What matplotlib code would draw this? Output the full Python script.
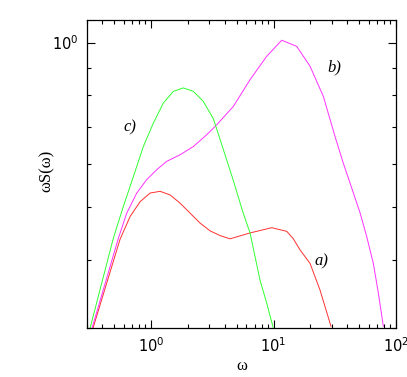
import numpy as np
import matplotlib
matplotlib.use('Agg')
import matplotlib.pyplot as plt
from matplotlib.ticker import LogLocator, NullFormatter

# curva a) (rojo)
w_a = [0.336, 0.558, 0.674, 0.813, 0.981, 1.184, 1.429, 1.725, 2.082, 2.512, 3.031,
       3.659, 4.415, 6.43, 9.67, 12.82, 14.51, 16.46, 19.86, 23.97, 29.47]
s_a = [0.300, 0.436, 0.480, 0.511, 0.530, 0.534, 0.526, 0.508, 0.487, 0.467, 0.452,
       0.443, 0.437, 0.448, 0.458, 0.451, 0.437, 0.417, 0.394, 0.352, 0.302]

# curva b) (magenta)
w_b = [0.330, 0.541, 0.633, 0.764, 0.922, 1.113, 1.343, 1.725, 2.215, 2.849, 3.438,
       4.697, 6.43, 8.80, 11.67, 15.47, 19.86, 25.5, 31.77, 37.14, 42.12, 50.83,
       57.66, 65.27, 71.7, 78.8]
s_b = [0.300, 0.438, 0.487, 0.530, 0.561, 0.585, 0.606, 0.623, 0.645, 0.678, 0.707,
       0.764, 0.855, 0.944, 1.010, 0.984, 0.905, 0.797, 0.673, 0.601, 0.553, 0.488,
       0.441, 0.394, 0.348, 0.302]

# curva c) (verde)
w_c = [0.318, 0.492, 0.594, 0.717, 0.865, 1.044, 1.260, 1.521, 1.835, 2.215, 2.673,
       3.226, 3.659, 4.671, 5.636, 6.43, 7.76, 8.80, 9.91]
s_c = [0.300, 0.438, 0.501, 0.568, 0.645, 0.712, 0.775, 0.814, 0.826, 0.814, 0.780,
       0.725, 0.665, 0.561, 0.488, 0.448, 0.367, 0.333, 0.301]

fig = plt.figure(figsize=(4.07, 3.77), dpi=100)
ax = fig.add_axes([0.2138, 0.130, 0.7592, 0.817])

ax.plot(w_a, s_a, color='#ff3030', lw=0.7)
ax.plot(w_b, s_b, color='#ff30ff', lw=0.7)
ax.plot(w_c, s_c, color='#30ff30', lw=0.7)

ax.set_xscale('log')
ax.set_yscale('log')
ax.set_xlim(0.3, 100)
ax.set_ylim(0.3, 1.1)

ax.yaxis.set_major_locator(LogLocator(base=10, subs=(1.0,)))
ax.yaxis.set_minor_locator(LogLocator(base=10, subs=np.arange(2, 10)))
ax.yaxis.set_minor_formatter(NullFormatter())
ax.xaxis.set_minor_formatter(NullFormatter())

ax.tick_params(which='both', direction='in', top=True, right=True, labelsize=10.5)
ax.tick_params(which='major', length=6, width=0.8, pad=6)
ax.tick_params(which='minor', length=3, width=0.8)
for sp in ax.spines.values():
    sp.set_linewidth(0.9)

ax.set_xlabel('ω', family='Liberation Serif', fontsize=12, labelpad=2)
ax.set_ylabel('ωS(ω)', family='Liberation Serif', fontsize=12)
ax.yaxis.set_label_coords(-0.104, 0.51)

lab = dict(family='Liberation Serif', style='italic', fontsize=12)
ax.text(21.8, 0.397, 'a)', ha='left', va='center', **lab)
ax.text(27.3, 0.90, 'b)', ha='left', va='center', **lab)
ax.text(0.59, 0.70, 'c)', ha='left', va='center', **lab)

fig.savefig('out.png', dpi=100)
